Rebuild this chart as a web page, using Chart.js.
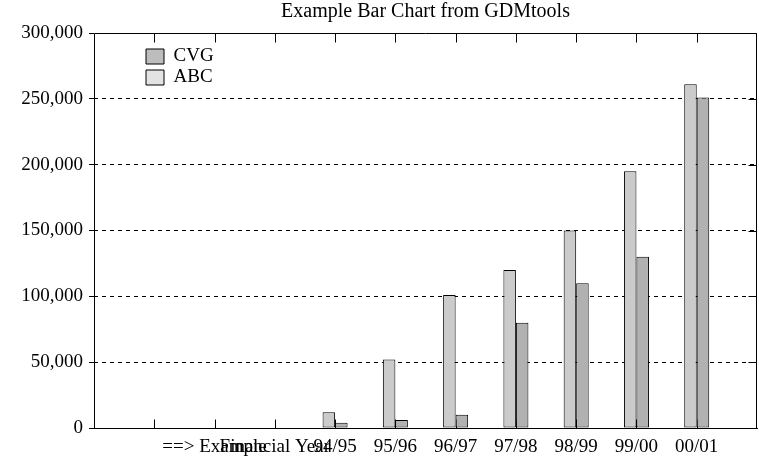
<!DOCTYPE html>
<html>
<head>
<meta charset="utf-8">
<title>Example Bar Chart from GDMtools</title>
<script src="https://cdn.jsdelivr.net/npm/chart.js@4.4.1/dist/chart.umd.min.js"></script>
<style>
  html, body { margin: 0; padding: 0; background: #fff; }
</style>
</head>
<body>
<canvas id="chart" width="759" height="461"></canvas>
<script>
// categories: blank slots at both ends, two text labels, then the financial years
const categories = ['', '', '==> Example', 'Financial Year', '94/95', '95/96', '96/97', '97/98', '98/99', '99/00', '00/01', ''];
const abcValues = [null, null, null, null, 12000, 52000, 101000, 120000, 150000, 195000, 261000, null];
const cvgValues = [null, null, null, null, 4000, 6000, 10000, 80000, 110000, 130000, 251000, null];
const yMin = 0;
const yMax = 300000;
const yStep = 50000;

const FONT = "'Liberation Serif', 'Times New Roman', serif";

// frame, inward tick marks on top / right, short ticks on the bottom
const frameTicks = {
  id: 'frameTicks',
  beforeDatasetsDraw(chart) {
    const { ctx, chartArea: a, scales: { x, y } } = chart;
    const top = Math.round(a.top) + 0.5;
    const bottom = Math.round(a.bottom) + 0.5;
    const right = Math.round(a.right) - 0.5;
    const left = Math.round(a.left) + 0.5;
    ctx.save();
    ctx.strokeStyle = '#000';
    ctx.lineWidth = 1;
    ctx.setLineDash([]);
    ctx.beginPath();
    for (let i = 1; i < categories.length - 1; i++) {
      const px = Math.round(x.getPixelForValue(i)) + 0.5;
      ctx.moveTo(px, bottom);
      ctx.lineTo(px, bottom - 9);
      ctx.moveTo(px, top);
      ctx.lineTo(px, top + 9);
    }
    y.ticks.forEach(t => {
      const py = Math.round(y.getPixelForValue(t.value)) + 0.5;
      ctx.moveTo(right, py);
      ctx.lineTo(right - 8, py);
    });
    ctx.moveTo(left, top);
    ctx.lineTo(right, top);
    ctx.lineTo(right, bottom);
    ctx.moveTo(left, top);
    ctx.lineTo(left, bottom);
    ctx.stroke();
    ctx.restore();
  },
  beforeDraw(chart) {
    // put the legend inside the plot, top left
    const lg = chart.legend;
    if (!lg) return;
    const w = lg.width, h = lg.height;
    lg.left = chart.chartArea.left + 50;
    lg.top = chart.chartArea.top + 12;
    lg.right = lg.left + w;
    lg.bottom = lg.top + h;
    lg.adjustHitBoxes();
  }
};

const legendFill = { ABC: '#e3e3e3', CVG: '#bdbdbd' };

new Chart(document.getElementById('chart'), {
  type: 'bar',
  data: {
    labels: categories,
    datasets: [
      {
        label: 'ABC',
        data: abcValues,
        backgroundColor: '#cbcbcb',
        borderColor: '#000',
        borderWidth: 1,
        borderSkipped: false
      },
      {
        label: 'CVG',
        data: cvgValues,
        backgroundColor: '#b1b1b1',
        borderColor: '#000',
        borderWidth: 1,
        borderSkipped: false
      }
    ]
  },
  options: {
    responsive: false,
    animation: false,
    devicePixelRatio: 1,
    layout: { padding: { left: 0, right: 2, top: 0, bottom: 0 } },
    datasets: {
      bar: { categoryPercentage: 0.415, barPercentage: 1 }
    },
    plugins: {
      title: {
        display: true,
        fullSize: false,
        text: 'Example Bar Chart from GDMtools',
        color: '#000',
        font: { family: FONT, size: 20, weight: 'normal', lineHeight: 1.2 },
        padding: { top: 0, bottom: 9 }
      },
      legend: {
        position: 'chartArea',
        align: 'start',
        reverse: true,
        labels: {
          color: '#000',
          font: { family: FONT, size: 19, lineHeight: 1 },
          boxWidth: 18,
          boxHeight: 15,
          padding: 2,
          generateLabels(chart) {
            const items = Chart.defaults.plugins.legend.labels.generateLabels(chart);
            items.forEach(it => {
              it.fillStyle = legendFill[it.text];
              it.strokeStyle = '#000';
              it.lineWidth = 1;
            });
            return items;
          }
        }
      },
      tooltip: { enabled: false }
    },
    scales: {
      x: {
        type: 'category',
        offset: false,
        grid: { display: false, drawTicks: false, offset: false },
        border: { display: true, color: '#000', width: 1 },
        ticks: {
          autoSkip: false,
          maxRotation: 0,
          minRotation: 0,
          padding: 8,
          color: '#000',
          font: { family: FONT, size: 19 }
        },
        afterFit(scale) {
          scale.height = 33;
          scale.paddingLeft = 0;
          scale.paddingRight = 0;
        }
      },
      y: {
        min: yMin,
        max: yMax,
        grid: {
          color: ctx => (ctx.tick && (ctx.tick.value === yMin || ctx.tick.value === yMax)) ? 'rgba(0,0,0,0)' : '#000',
          lineWidth: 1,
          tickColor: '#000',
          tickBorderDash: [],
          tickLength: 5,
          drawTicks: true
        },
        border: { display: false, color: '#000', width: 1, dash: [4, 4] },
        ticks: {
          stepSize: yStep,
          padding: 6,
          color: '#000',
          font: { family: FONT, size: 19 },
          callback: v => v.toLocaleString('en-US')
        },
        afterFit(scale) { scale.width = 94; }
      }
    }
  },
  plugins: [frameTicks]
});
</script>
</body>
</html>
